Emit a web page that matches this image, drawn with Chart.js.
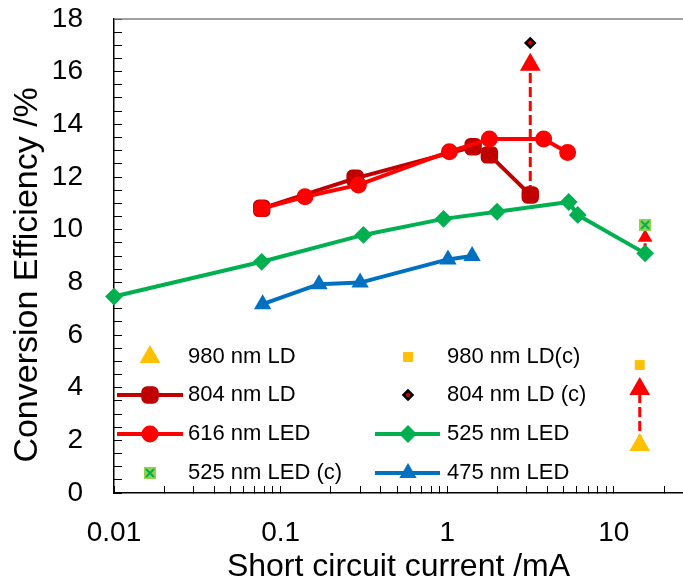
<!DOCTYPE html>
<html>
<head>
<meta charset="utf-8">
<script src="https://cdn.jsdelivr.net/npm/chart.js@4.4.1/dist/chart.umd.min.js"></script>
<style>
  body { margin: 0; background: #fff; }
  canvas { display: block; }
</style>
</head>
<body>
<canvas id="chart" width="683" height="586"></canvas>
<script>
// --- data (x = short circuit current /mA, y = efficiency /%) ---
const x616 = [0.077, 0.140, 0.293, 1.03, 1.79, 3.79, 5.28];
const y616 = [10.80, 11.25, 11.70, 12.96, 13.44, 13.44, 12.93];

const x804 = [0.077, 0.280, 1.43, 1.79, 3.15];
const y804 = [10.81, 11.95, 13.15, 12.84, 11.32];

const x525 = [0.01, 0.077, 0.314, 0.95, 1.99, 5.36, 6.07, 15.4];
const y525 = [7.46, 8.78, 9.80, 10.41, 10.68, 11.05, 10.56, 9.10];

const x475 = [0.078, 0.170, 0.300, 1.01, 1.41];
const y475 = [7.17, 7.93, 7.99, 8.87, 9.00];

const x980 = [14.3];
const y980 = [1.82];
const x980c = [14.3];
const y980c = [4.86];
const x804c = [3.15];
const y804c = [17.09];
const x525c = [15.4];
const y525c = [10.18];

// arrows: from measured value up to corrected value
const arrowX = [3.15, 15.4, 14.3];
const arrowFrom = [11.32, 9.10, 1.82];
const arrowTo = [16.26, 9.70, 3.95];

// tick labels
const xLabelValues = [0.01, 0.1, 1, 10];
const xLabelText = ['0.01', '0.1', '1', '10'];
const yTickLabels = ['0', '2', '4', '6', '8', '10', '12', '14', '16', '18'];

function pts(xs, ys) {
    return xs.map((v, i) => ({ x: v, y: ys[i] }));
}

// tick positions on log axis (1..9 x 10^k)
const xTicks = [];
for (let e = -2; e <= 1; e++) {
    for (let m = 1; m <= 9; m++) {
        const v = m * Math.pow(10, e);
        if (v <= 26) xTicks.push(v);
    }
}

// square with a cross for 525 nm LED (c)
const crossBox = document.createElement('canvas');
crossBox.width = 12; crossBox.height = 12;
(function () {
    const c = crossBox.getContext('2d');
    c.fillStyle = '#92D050';
    c.fillRect(0, 0, 12, 12);
    c.strokeStyle = '#00B050';
    c.lineWidth = 2;
    c.beginPath();
    c.moveTo(2, 2); c.lineTo(10, 10);
    c.moveTo(10, 2); c.lineTo(2, 10);
    c.stroke();
})();

const RED = '#FF0000', DARKRED = '#C00000', GREEN = '#00B050', BLUE = '#0070C0', YELLOW = '#FFC000';

function series(label, xs, ys, color, style, radius) {
    return {
        label: label,
        data: pts(xs, ys),
        showLine: true,
        borderColor: color,
        borderWidth: 4,
        borderJoinStyle: 'round',
        borderCapStyle: 'round',
        pointStyle: style,
        pointRadius: radius,
        pointBackgroundColor: color,
        pointBorderColor: color,
        pointBorderWidth: 2,
        clip: false
    };
}

function single(label, xs, ys, style, radius, fill, border, bw) {
    return {
        label: label,
        data: pts(xs, ys),
        showLine: false,
        pointStyle: style,
        pointRadius: radius,
        pointBackgroundColor: fill,
        pointBorderColor: border,
        pointBorderWidth: bw,
        clip: false
    };
}

function arrow(i, r) {
    return {
        label: 'arrow' + i,
        data: [{ x: arrowX[i], y: arrowFrom[i] }, { x: arrowX[i], y: arrowTo[i] }],
        showLine: true,
        borderColor: RED,
        borderWidth: 3,
        borderDash: [10, 4],
        pointStyle: 'triangle',
        pointRadius: [0, r],
        pointBackgroundColor: RED,
        pointBorderWidth: 0,
        clip: false
    };
}

const datasets = [
    single('804 nm LD (c)', x804c, y804c, 'rectRot', 4.5, '#D00000', '#000', 2.5),
    single('980 nm LD(c)', x980c, y980c, 'rect', 7, YELLOW, YELLOW, 0),
    single('525 nm LED (c)', x525c, y525c, crossBox, 6, '#92D050', GREEN, 0),
    single('980 nm LD', x980, y980, 'triangle', 10, YELLOW, YELLOW, 2),
    series('616 nm LED', x616, y616, RED, 'circle', 7.5),
    series('804 nm LD', x804, y804, DARKRED, 'rectRounded', 9),
    series('525 nm LED', x525, y525, GREEN, 'rectRot', 7.5),
    series('475 nm LED', x475, y475, BLUE, 'triangle', 8),
    arrow(0, 12),
    arrow(1, 8.5),
    arrow(2, 12)
];

// legend drawn inside the plot, two columns
const legendItems = [
    { ds: 3, col: 0, row: 0 }, { ds: 5, col: 0, row: 1 },
    { ds: 4, col: 0, row: 2 }, { ds: 2, col: 0, row: 3 },
    { ds: 1, col: 1, row: 0 }, { ds: 0, col: 1, row: 1 },
    { ds: 6, col: 1, row: 2 }, { ds: 7, col: 1, row: 3 }
];
const legendCols = [{ mark: 150, l0: 117, l1: 183, text: 188 }, { mark: 408, l0: 375, l1: 440, text: 447 }];
const legendRows = [357, 395, 434, 473];

const insideLegend = {
    id: 'insideLegend',
    afterDraw(chart) {
        const ctx = chart.ctx;
        ctx.save();
        ctx.font = '22px "Liberation Sans", Arial, sans-serif';
        ctx.textBaseline = 'middle';
        ctx.textAlign = 'left';
        for (const it of legendItems) {
            const ds = chart.data.datasets[it.ds];
            const c = legendCols[it.col];
            const y = legendRows[it.row];
            if (ds.showLine) {
                ctx.strokeStyle = ds.borderColor;
                ctx.lineWidth = ds.borderWidth;
                ctx.lineCap = 'butt';
                ctx.beginPath();
                ctx.moveTo(c.l0, y);
                ctx.lineTo(c.l1, y);
                ctx.stroke();
            }
            ctx.fillStyle = ds.pointBackgroundColor;
            ctx.strokeStyle = ds.pointBorderColor;
            ctx.lineWidth = ds.pointBorderWidth;
            Chart.helpers.drawPoint(ctx, {
                pointStyle: ds.pointStyle,
                radius: ds.pointRadius,
                rotation: 0,
                borderWidth: ds.pointBorderWidth
            }, c.mark, y);
            ctx.fillStyle = '#000';
            ctx.fillText(ds.label, c.text, y);
        }
        ctx.restore();
    }
};

// top frame line
const topFrame = {
    id: 'topFrame',
    beforeDatasetsDraw(chart) {
        const a = chart.chartArea;
        const ctx = chart.ctx;
        ctx.save();
        ctx.strokeStyle = '#808080';
        ctx.lineWidth = 1.5;
        ctx.beginPath();
        ctx.moveTo(a.left, a.top);
        ctx.lineTo(a.right, a.top);
        ctx.stroke();
        ctx.restore();
    }
};

function noPad(s) {
    s.paddingTop = 0;
    s.paddingBottom = 0;
    s.paddingLeft = 0;
    s.paddingRight = 0;
}

Chart.defaults.color = '#000';
Chart.defaults.font.family = '"Liberation Sans", Arial, sans-serif';

new Chart(document.getElementById('chart').getContext('2d'), {
    type: 'line',
    data: { datasets: datasets },
    options: {
        responsive: false,
        animation: false,
        devicePixelRatio: 1,
        layout: { autoPadding: false, padding: { top: 19, left: 0, right: 0, bottom: 0 } },
        plugins: {
            legend: { display: false },
            tooltip: { enabled: false }
        },
        scales: {
            x: {
                type: 'logarithmic',
                position: 'bottom',
                min: 0.01,
                max: 26,
                afterFit: s => { s.height = 93; noPad(s); },
                afterBuildTicks: s => { s.ticks = xTicks.map(v => ({ value: v })); },
                border: { display: true, color: '#000', width: 1.5 },
                grid: { display: true, drawOnChartArea: false, drawTicks: true, tickLength: -7, tickColor: '#000', tickWidth: 1 },
                ticks: {
                    autoSkip: false,
                    maxRotation: 0,
                    padding: 30,
                    font: { size: 28, lineHeight: 1.2 },
                    callback: (v) => {
                        const i = xLabelValues.findIndex(t => Math.abs(t - v) / t < 1e-6);
                        return i >= 0 ? xLabelText[i] : '';
                    }
                },
                title: {
                    display: true,
                    text: 'Short circuit current /mA',
                    font: { size: 32, lineHeight: 1 },
                    padding: { top: 0, bottom: 3 }
                }
            },
            y: {
                min: 0,
                max: 18,
                afterFit: s => { s.width = 114; noPad(s); },
                border: { display: true, color: '#000', width: 1.5 },
                grid: { display: true, drawOnChartArea: false, drawTicks: true, tickLength: -8, tickColor: '#000', tickWidth: 1 },
                ticks: {
                    stepSize: 0.5,
                    autoSkip: false,
                    padding: 39,
                    font: { size: 28, lineHeight: 1.2 },
                    callback: (v) => (v % 2 === 0 ? yTickLabels[v / 2] : '')
                },
                title: {
                    display: true,
                    text: 'Conversion Efficiency /%\u00a0\u00a0\u00a0\u00a0',
                    font: { size: 34, lineHeight: 1 },
                    padding: { top: 11, bottom: 0 }
                }
            }
        }
    },
    plugins: [topFrame, insideLegend]
});
</script>
</body>
</html>
